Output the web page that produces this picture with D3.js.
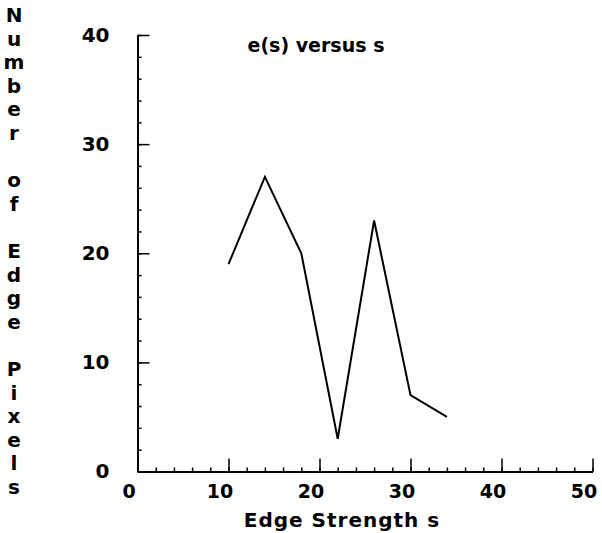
<!DOCTYPE html>
<html>
<head>
<meta charset="utf-8">
<script src="https://cdn.jsdelivr.net/npm/d3@7"></script>
<style>
  body { margin: 0; background: #fff; }
  svg { display: block; }
  text { font-family: "DejaVu Sans", sans-serif; fill: #000; }
</style>
</head>
<body>
<svg width="602" height="533"></svg>
<script>
// data
const strength = [10, 14, 18, 22, 26, 30, 34];
const edgeCount = [19, 27, 20, 3, 23, 7, 5];
const xTicks = [0, 10, 20, 30, 40, 50];
const yTicks = [0, 10, 20, 30, 40];
const title = "e(s) versus s";
const xTitle = "Edge Strength s";
const yTitle = "Number of Edge Pixels";

const svg = d3.select("svg");

const x = d3.scaleLinear().domain([0, 50]).range([137.5, 592.5]);
const y = d3.scaleLinear().domain([0, 40]).range([471.5, 35]);

// minor ticks first
svg.append("g")
    .attr("transform", `translate(${x(0)},0)`)
    .call(d3.axisLeft(y).tickValues(d3.range(0, 41, 2)).tickSizeInner(-4).tickSizeOuter(0).tickFormat(""))
    .call(g => g.select(".domain").remove());

svg.append("g")
    .attr("transform", `translate(0,${y(0)})`)
    .call(d3.axisBottom(x).tickValues(d3.range(0, 51, 2)).tickSizeInner(-4).tickSizeOuter(0).tickFormat(""))
    .call(g => g.select(".domain").remove());

// major axes
const yAxis = svg.append("g")
    .attr("transform", `translate(${x(0)},0)`)
    .call(d3.axisLeft(y).tickValues(yTicks).tickSizeInner(-12).tickSizeOuter(0).tickPadding(28));

const xAxis = svg.append("g")
    .attr("transform", `translate(0,${y(0)})`)
    .call(d3.axisBottom(x).tickValues(xTicks).tickSizeInner(-13).tickSizeOuter(0).tickPadding(13));

svg.selectAll(".tick line").attr("stroke", "#000").attr("stroke-width", 1.5);
svg.selectAll(".domain").attr("stroke", "#000").attr("stroke-width", 2);

yAxis.selectAll("text")
    .style("font-size", "20px")
    .style("font-weight", "bold")
    .style("font-family", "DejaVu Sans, sans-serif");

xAxis.selectAll("text")
    .attr("dx", -9)
    .style("font-size", "19px")
    .style("font-weight", "bold")
    .style("font-family", "DejaVu Sans, sans-serif");

// the line
const line = d3.line()
    .x((d, i) => x(strength[i]))
    .y(d => y(d));

svg.append("path")
    .datum(edgeCount)
    .attr("fill", "none")
    .attr("stroke", "#000")
    .attr("stroke-width", 2)
    .attr("stroke-linejoin", "miter")
    .attr("d", line);

// title
svg.append("text")
    .attr("x", 316)
    .attr("y", 52)
    .attr("text-anchor", "middle")
    .style("font-size", "19px")
    .style("font-weight", "bold")
    .text(title);

// x title
svg.append("text")
    .attr("x", 342)
    .attr("y", 527)
    .attr("text-anchor", "middle")
    .style("font-size", "20px")
    .style("font-weight", "bold")
    .style("letter-spacing", "1px")
    .text(xTitle);

// y title, one letter per row
svg.append("g").selectAll("text")
    .data(yTitle.split(""))
    .enter().append("text")
    .attr("x", 14)
    .attr("y", (d, i) => 15 + i * 23.6)
    .attr("dy", "0.35em")
    .attr("text-anchor", "middle")
    .style("font-size", "20px")
    .style("font-weight", "bold")
    .text(d => d);
</script>
</body>
</html>
